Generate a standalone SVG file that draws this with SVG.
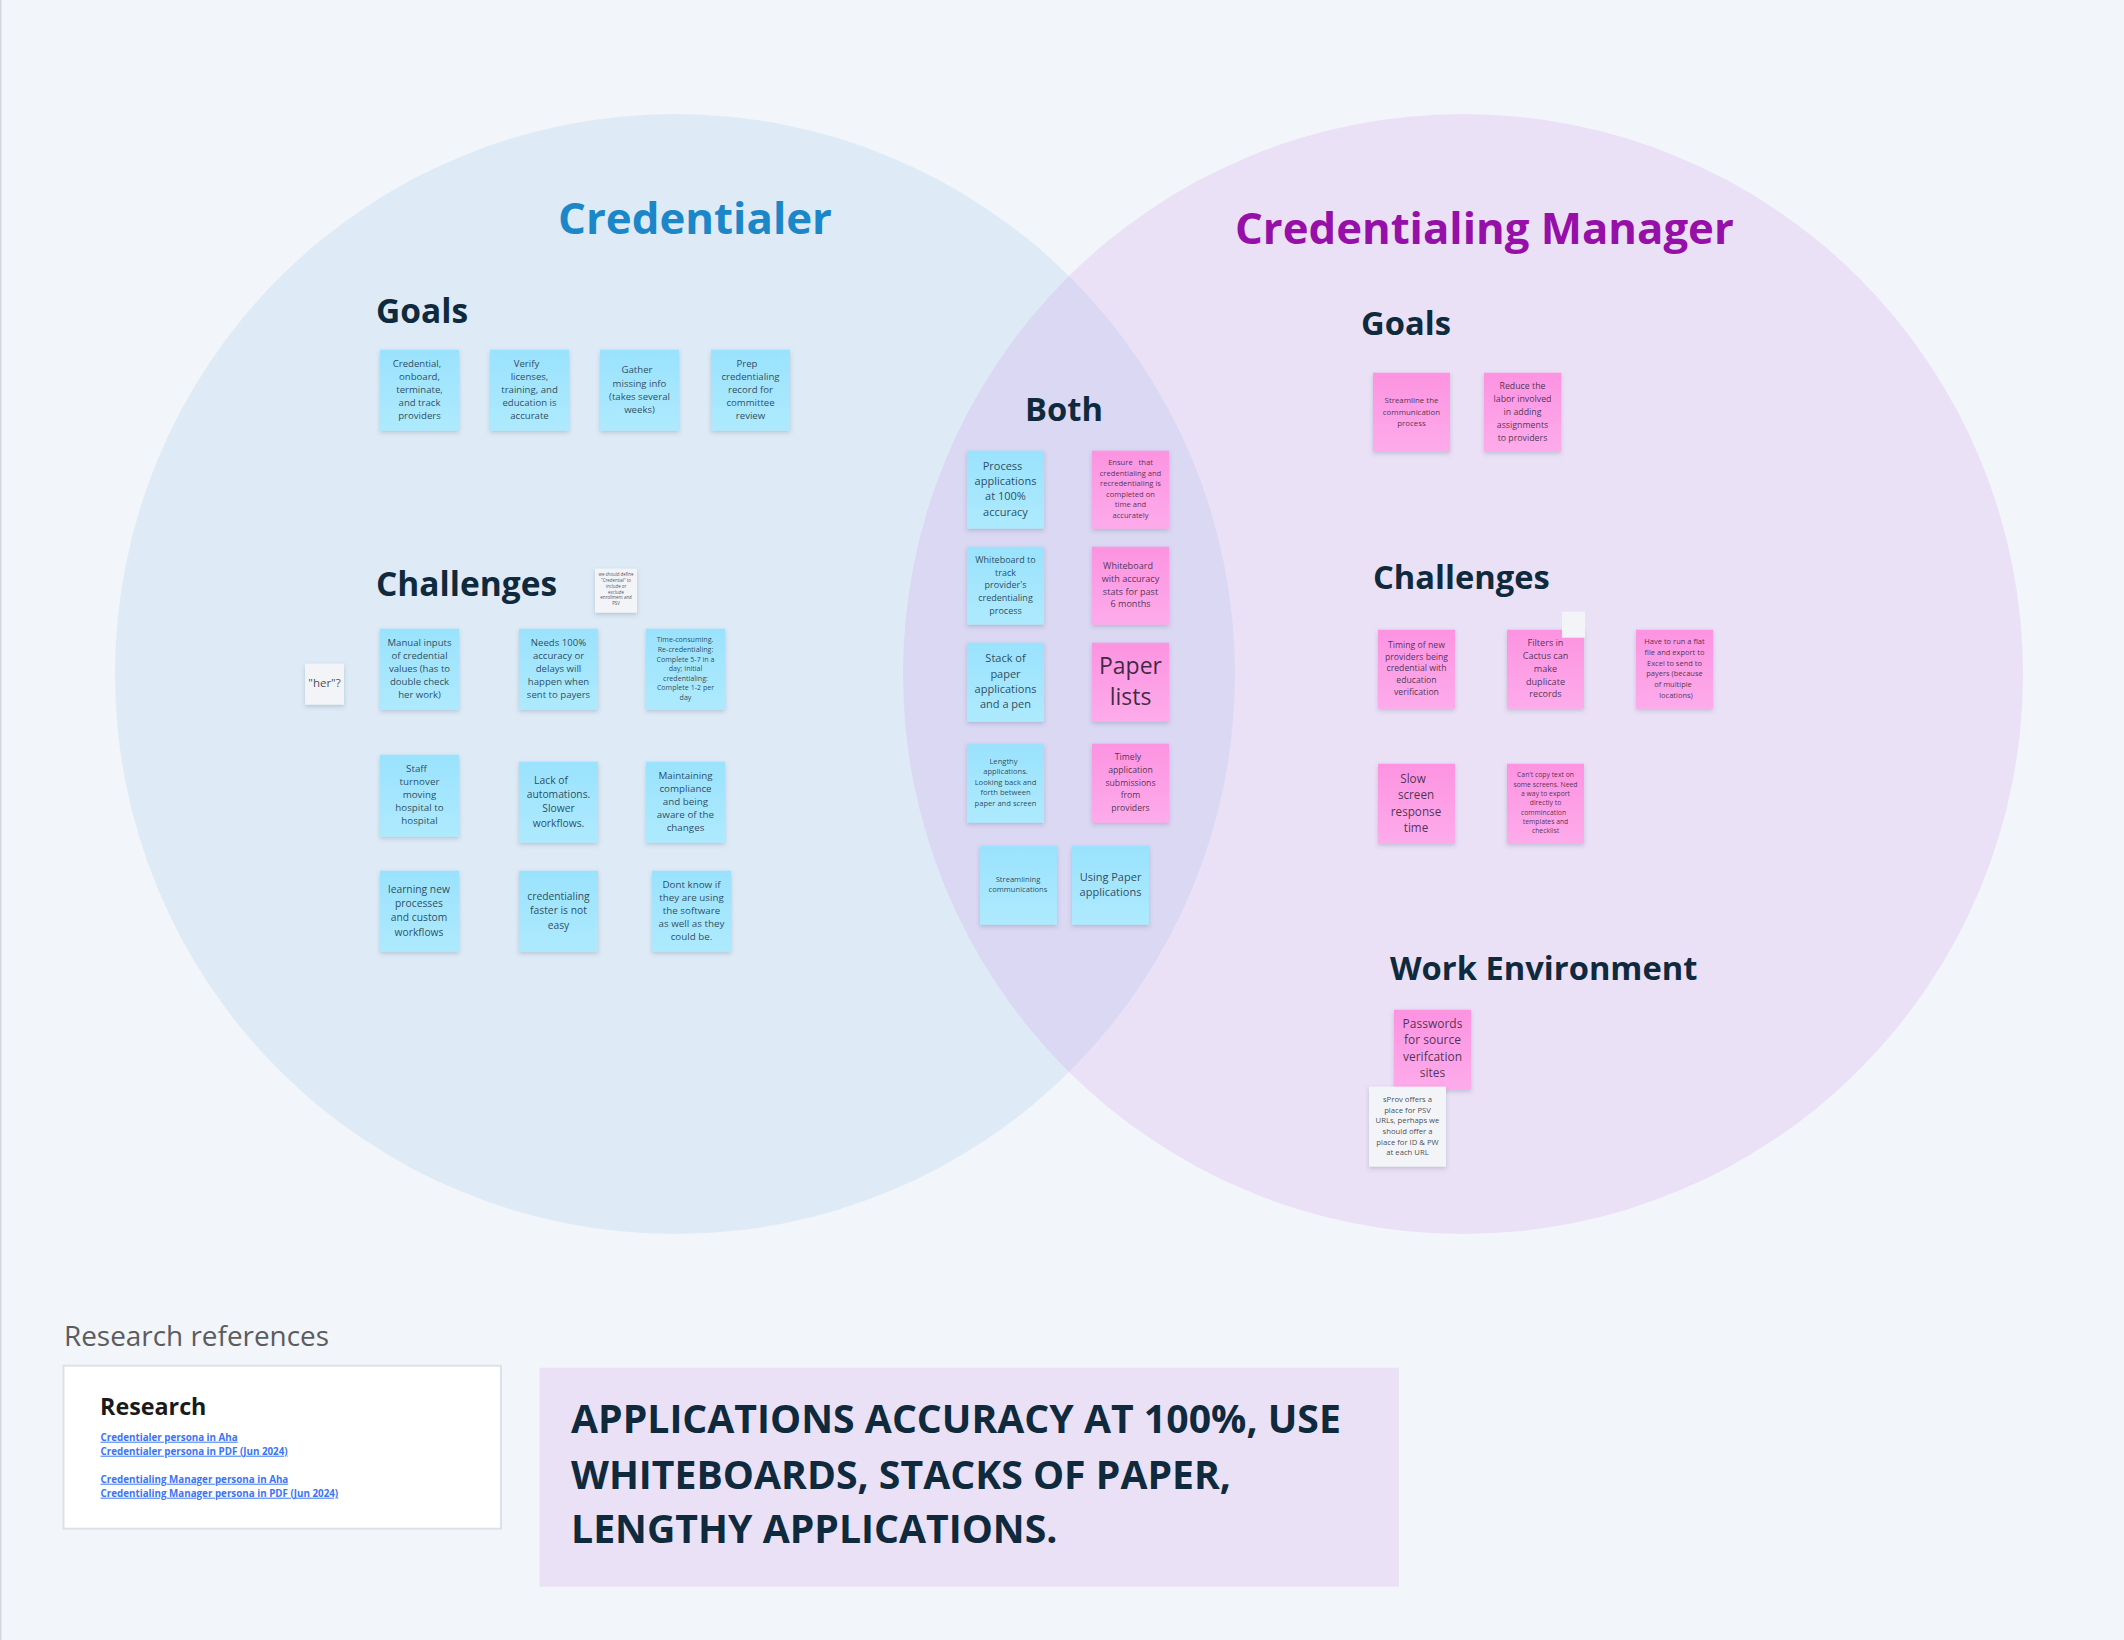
<svg xmlns="http://www.w3.org/2000/svg" width="2124" height="1640" viewBox="0 0 2124 1640">
<style>
text{font-family:"Open Sans","Noto Sans","DejaVu Sans",sans-serif;white-space:pre}
.h{font-weight:700;fill:#0f2a3d;font-size:32.7px}
.n{fill:#0f2a3c;fill-opacity:.84;text-anchor:middle}
.p{fill:#2b1a33;fill-opacity:.84;text-anchor:middle}
.g{fill:#222b36;fill-opacity:.85;text-anchor:middle}
.blue{fill:url(#blue);filter:url(#sh)}
.pink{fill:url(#pink);filter:url(#sh)}
.grey{fill:#f3f4f8;filter:url(#sh)}
.l{font-weight:700;font-size:9.8px;fill:#3b74f5;text-decoration:underline}
</style>
<defs>
<linearGradient id="blue" x1="0" y1="0" x2="0" y2="1"><stop offset="0" stop-color="#9ae2fd"/><stop offset="1" stop-color="#aeeafe"/></linearGradient>
<linearGradient id="pink" x1="0" y1="0" x2="0" y2="1"><stop offset="0" stop-color="#fd93e1"/><stop offset="1" stop-color="#fdabeb"/></linearGradient>
<filter id="sh" x="-15%" y="-15%" width="130%" height="130%"><feDropShadow dx="0" dy="2" stdDeviation="2" flood-color="#3c5070" flood-opacity=".25"/></filter>
<clipPath id="lc"><circle cx="675" cy="674" r="560"/></clipPath>
</defs>
<rect width="2124" height="1640" fill="#f2f5f9"/>
<rect width="1.5" height="1640" fill="#d3d8df"/>
<g id="venn">
<circle cx="675" cy="674" r="560" fill="#deebf7"/>
<circle cx="1463" cy="674" r="560" fill="#ebe1f7"/>
<circle cx="1463" cy="674" r="560" fill="#dad8f3" clip-path="url(#lc)"/>
</g>
<g transform="translate(0,0.7)">
<g id="headings">
<text x="558" y="233.5" font-size="43.8" font-weight="700" fill="#1b87c9" id="title-credentialer">Credentialer</text>
<text x="1235" y="243" font-size="43.7" font-weight="700" fill="#950fa8" id="title-manager">Credentialing Manager</text>
<text class="h" x="376" y="322" style="font-size:33.5px">Goals</text>
<text class="h" x="376" y="595" style="font-size:33.5px">Challenges</text>
<text class="h" x="1025" y="420">Both</text>
<text class="h" x="1361" y="334">Goals</text>
<text class="h" x="1373" y="588">Challenges</text>
<text class="h" x="1390" y="979">Work Environment</text>
</g>
<g id="s1"><rect class="blue" x="380" y="349" width="79" height="81"/><g class="n" font-size="9.6"><text x="417" y="366">Credential,</text><text x="419.5" y="379">onboard,</text><text x="419.5" y="392">terminate,</text><text x="419.5" y="405">and track</text><text x="419.5" y="418">providers</text></g></g>
<g id="s2"><rect class="blue" x="490" y="349" width="79" height="81"/><g class="n" font-size="9.6"><text x="526.5" y="366">Verify</text><text x="529.5" y="379">licenses,</text><text x="529.5" y="392">training, and</text><text x="529.5" y="405">education is</text><text x="529.5" y="418">accurate</text></g></g>
<g id="s3"><rect class="blue" x="600" y="349" width="79" height="81"/><g class="n" font-size="9.6"><text x="637" y="372.5">Gather</text><text x="639.5" y="386.5">missing info</text><text x="639.5" y="399.5">(takes several</text><text x="639.5" y="412.5">weeks)</text></g></g>
<g id="s4"><rect class="blue" x="711" y="349" width="79" height="81"/><g class="n" font-size="9.6"><text x="747" y="366">Prep</text><text x="750.5" y="379">credentialing</text><text x="750.5" y="392">record for</text><text x="750.5" y="405">committee</text><text x="750.5" y="418">review</text></g></g>
<g id="c1"><rect class="grey" x="595" y="568" width="42" height="44"/><g class="g" font-size="4.4"><text x="616" y="575.7">we should define</text><text x="616" y="581.6">"Credential" to</text><text x="616" y="587.6">include or</text><text x="616" y="593">exclude</text><text x="616" y="598.6">enrollment and</text><text x="616" y="604.6">PSV</text></g></g>
<g id="c2"><rect class="grey" x="305" y="663" width="39" height="41"/><text class="g" x="324.5" y="686.5" font-size="11.5">"her"?</text></g>
<g id="s5"><rect class="blue" x="380" y="628" width="79" height="81"/><g class="n" font-size="9.6"><text x="419.5" y="645.3">Manual inputs</text><text x="419.5" y="658.3">of credential</text><text x="419.5" y="671.3">values (has to</text><text x="419.5" y="684.3">double check</text><text x="419.5" y="697.3">her work)</text></g></g>
<g id="s6"><rect class="blue" x="519" y="628" width="79" height="81"/><g class="n" font-size="9.6"><text x="558.5" y="645.3">Needs 100%</text><text x="558.5" y="658.3">accuracy or</text><text x="558.5" y="671.3">delays will</text><text x="558.5" y="684.3">happen when</text><text x="558.5" y="697.3">sent to payers</text></g></g>
<g id="s7"><rect class="blue" x="646" y="628" width="79" height="81"/><g class="n" font-size="7.1"><text x="685" y="641">Time-consuming.</text><text x="685.5" y="651">Re-credentialing:</text><text x="685.5" y="661">Complete 5-7 in a</text><text x="685.5" y="670">day; Initial</text><text x="685.5" y="680">credentialing:</text><text x="685.5" y="689">Complete 1-2 per</text><text x="685.5" y="699">day</text></g></g>
<g id="s8"><rect class="blue" x="380" y="754" width="79" height="82"/><g class="n" font-size="9.8"><text x="416.5" y="771">Staff</text><text x="419.5" y="784">turnover</text><text x="419.5" y="797.3">moving</text><text x="419.5" y="810.3">hospital to</text><text x="419.5" y="823">hospital</text></g></g>
<g id="s9"><rect class="blue" x="519" y="761" width="79" height="81"/><g class="n" font-size="10.3"><text x="551" y="783.3">Lack of</text><text x="558.5" y="797.3">automations.</text><text x="558.5" y="811.3">Slower</text><text x="558.5" y="826">workflows.</text></g></g>
<g id="s10"><rect class="blue" x="646" y="761" width="79" height="81"/><g class="n" font-size="9.8"><text x="685.5" y="778.3">Maintaining</text><text x="685.5" y="791.3">compliance</text><text x="685.5" y="804.3">and being</text><text x="685.5" y="817.3">aware of the</text><text x="685.5" y="830.3">changes</text></g></g>
<g id="s11"><rect class="blue" x="380" y="870" width="79" height="81"/><g class="n" font-size="10.3"><text x="419" y="892.3">learning new</text><text x="419" y="906.3">processes</text><text x="419" y="920.3">and custom</text><text x="419" y="935">workflows</text></g></g>
<g id="s12"><rect class="blue" x="519" y="870" width="79" height="81"/><g class="n" font-size="10.3"><text x="558.5" y="899.3">credentialing</text><text x="558.5" y="913.3">faster is not</text><text x="558.5" y="928">easy</text></g></g>
<g id="s13"><rect class="blue" x="652" y="870" width="79" height="81"/><g class="n" font-size="9.8"><text x="691.5" y="887.3">Dont know if</text><text x="691.5" y="900.3">they are using</text><text x="691.5" y="913.3">the software</text><text x="691.5" y="926.3">as well as they</text><text x="691.5" y="939.3">could be.</text></g></g>
<g id="b1"><rect class="blue" x="967" y="450" width="77" height="78"/><g class="n" font-size="11"><text x="1002.5" y="469">Process</text><text x="1005.5" y="484">applications</text><text x="1005.5" y="499">at 100%</text><text x="1005.5" y="515">accuracy</text></g></g>
<g id="b2"><rect class="pink" x="1092" y="450" width="77" height="78"/><g class="p" font-size="7.6"><text x="1130.5" y="464">Ensure   that</text><text x="1130.5" y="475">credentialing and</text><text x="1130.5" y="485">recredentialing is</text><text x="1130.5" y="496">completed on</text><text x="1130.5" y="506">time and</text><text x="1130.5" y="517">accurately</text></g></g>
<g id="b3"><rect class="blue" x="967" y="546" width="77" height="78"/><g class="n" font-size="9"><text x="1005.5" y="562.3">Whiteboard to</text><text x="1005.5" y="575.3">track</text><text x="1005.5" y="587.3">provider's</text><text x="1005.5" y="600.3">credentialing</text><text x="1005.5" y="613.3">process</text></g></g>
<g id="b4"><rect class="pink" x="1092" y="546" width="77" height="78"/><g class="p" font-size="9.1"><text x="1128" y="568">Whiteboard</text><text x="1130.5" y="581.3">with accuracy</text><text x="1130.5" y="594.3">stats for past</text><text x="1130.5" y="606.3">6 months</text></g></g>
<g id="b5"><rect class="blue" x="967" y="642" width="77" height="79"/><g class="n" font-size="11"><text x="1005.5" y="661">Stack of</text><text x="1005.5" y="677.3">paper</text><text x="1005.5" y="692">applications</text><text x="1005.5" y="707">and a pen</text></g></g>
<g id="b6"><rect class="pink" x="1092" y="642" width="77" height="79"/><g class="g" font-size="23" style="fill:#1c1424"><text x="1130.5" y="673">Paper</text><text x="1130.5" y="704">lists</text></g></g>
<g id="b7"><rect class="blue" x="967" y="743" width="77" height="79"/><g class="n" font-size="7.6"><text x="1003.5" y="763.7">Lengthy</text><text x="1005.5" y="773.7">applications.</text><text x="1005.5" y="784.7">Looking back and</text><text x="1005.5" y="794.7">forth between</text><text x="1005.5" y="805.7">paper and screen</text></g></g>
<g id="b8"><rect class="pink" x="1092" y="743" width="77" height="79"/><g class="p" font-size="8.7"><text x="1128" y="759.3">Timely</text><text x="1130.5" y="772.3">application</text><text x="1130.5" y="785.3">submissions</text><text x="1130.5" y="797.3">from</text><text x="1130.5" y="810.3">providers</text></g></g>
<g id="b9"><rect class="blue" x="980" y="845" width="77" height="79"/><g class="n" font-size="7.6"><text x="1018" y="881.3">Streamlining</text><text x="1018" y="891.3">communications</text></g></g>
<g id="b10"><rect class="blue" x="1072" y="845" width="77" height="79"/><g class="n" font-size="11"><text x="1110.5" y="880">Using Paper</text><text x="1110.5" y="895">applications</text></g></g>
<g id="m1"><rect class="pink" x="1373" y="372" width="77" height="79"/><g class="p" font-size="7.9"><text x="1411.5" y="402.3">Streamline the</text><text x="1411.5" y="414.3">communication</text><text x="1411.5" y="425.3">process</text></g></g>
<g id="m2"><rect class="pink" x="1484" y="372" width="77" height="79"/><g class="p" font-size="8.8"><text x="1522.5" y="388.3">Reduce the</text><text x="1522.5" y="401.3">labor involved</text><text x="1522.5" y="414.3">in adding</text><text x="1522.5" y="427.3">assignments</text><text x="1522.5" y="440.3">to providers</text></g></g>
<g id="m3"><rect class="pink" x="1378" y="629" width="77" height="79"/><g class="p" font-size="8.7"><text x="1416.5" y="647.3">Timing of new</text><text x="1416.5" y="659.3">providers being</text><text x="1416.5" y="670.3">credential with</text><text x="1416.5" y="682.3">education</text><text x="1416.5" y="694">verification</text></g></g>
<g id="m4"><rect class="pink" x="1507" y="629" width="77" height="79"/><g class="p" font-size="9.1"><text x="1545.5" y="645.3">Filters in</text><text x="1545.5" y="658.3">Cactus can</text><text x="1545.5" y="671.3">make</text><text x="1545.5" y="684.3">duplicate</text><text x="1545.5" y="696.3">records</text></g></g>
<g id="c3"><rect x="1562" y="611" width="23" height="26" fill="#f3f4f8"/></g>
<g id="m5"><rect class="pink" x="1636" y="629" width="77" height="79"/><g class="p" font-size="7.5"><text x="1674.5" y="643.3">Have to run a flat</text><text x="1674.5" y="654.3">file and export to</text><text x="1674.5" y="665.3">Excel to send to</text><text x="1674.5" y="675.3">payers (because</text><text x="1673" y="686.3">of multiple</text><text x="1676" y="697.3">locations)</text></g></g>
<g id="m6"><rect class="pink" x="1378" y="763" width="77" height="80"/><g class="p" font-size="11.7"><text x="1413" y="782">Slow</text><text x="1416" y="798.3">screen</text><text x="1416" y="815.3">response</text><text x="1416" y="831">time</text></g></g>
<g id="m7"><rect class="pink" x="1507" y="763" width="77" height="80"/><g class="p" font-size="6.8"><text x="1545.5" y="776.3">Can't copy text on</text><text x="1545.5" y="786.3">some screens. Need</text><text x="1545.5" y="795.3">a way to export</text><text x="1545.5" y="804.3">directly to</text><text x="1543.5" y="814.3">commincation</text><text x="1545.5" y="823.3">templates and</text><text x="1545.5" y="832.3">checklist</text></g></g>
<g id="m8"><rect class="pink" x="1394" y="1009" width="77" height="80"/><g class="p" font-size="12"><text x="1432.5" y="1027.7">Passwords</text><text x="1432.5" y="1043.7">for source</text><text x="1432.5" y="1060.7">verifcation</text><text x="1432.5" y="1076.7">sites</text></g></g>
<g id="c4"><rect class="grey" x="1369" y="1086" width="77" height="80"/><g class="g" font-size="7.7"><text x="1407.5" y="1101.3">sProv offers a</text><text x="1407.5" y="1112.3">place for PSV</text><text x="1407.5" y="1122.3">URLs, perhaps we</text><text x="1407.5" y="1133.3">should offer a</text><text x="1407.5" y="1144.3">place for ID &amp; PW</text><text x="1407.5" y="1154.3">at each URL</text></g></g>
<g id="research">
<text x="64" y="1345" font-size="27.9" fill="#5a5c60">Research references</text>
<rect x="63.5" y="1365" width="437.5" height="163" fill="#fff" stroke="#dde1e7" stroke-width="2"/>
<text x="100" y="1414" font-size="23.3" font-weight="700" fill="#1a1a1a">Research</text>
<text class="l" x="100.5" y="1440">Credentialer persona in Aha</text>
<text class="l" x="100.5" y="1454">Credentialer persona in PDF (Jun 2024)</text>
<text class="l" x="100.5" y="1482">Credentialing Manager persona in Aha</text>
<text class="l" x="100.5" y="1496">Credentialing Manager persona in PDF (Jun 2024)</text>
</g>
<g id="banner">
<rect x="539.5" y="1367" width="859.5" height="219" fill="#ebe1f7"/>
<text x="571" y="1432" font-size="39.2" font-weight="700" fill="#0f2a3d">APPLICATIONS ACCURACY AT 100%, USE</text>
<text x="571" y="1488" font-size="39.2" font-weight="700" fill="#0f2a3d">WHITEBOARDS, STACKS OF PAPER,</text>
<text x="571" y="1542.5" font-size="39.2" font-weight="700" fill="#0f2a3d">LENGTHY APPLICATIONS.</text>
</g>
</g>
</svg>
